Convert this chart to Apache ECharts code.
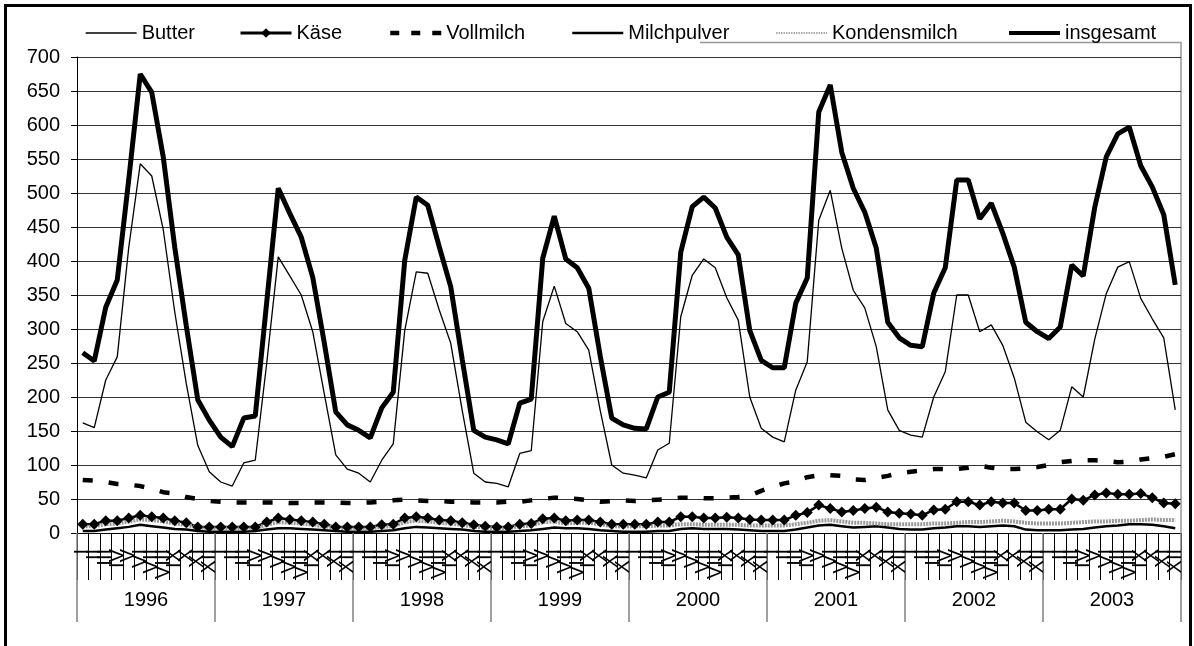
<!DOCTYPE html>
<html>
<head>
<meta charset="utf-8">
<script src="https://cdn.jsdelivr.net/npm/echarts@6.0.0/dist/echarts.min.js"></script>
<style>
html, body { margin: 0; padding: 0; background: #fff; }
#main { width: 1194px; height: 646px; }
</style>
</head>
<body>
<div id="main"></div>
<script>
// Jahre und Monate (römisch)
var years = ['1996', '1997', '1998', '1999', '2000', '2001', '2002', '2003']
var monthLabels = ['I', 'II', 'III', 'IV', 'V', 'VI', 'VII', 'VIII', 'IX', 'X', 'XI', 'XII']
var yTicks = { min: 0, max: 700, step: 50 }

// Monatswerte 1996-2003
var butter = [
    162, 155, 225, 259, 420, 543, 525, 446, 325, 220, 129, 90,
    75, 69, 103, 107, 250, 406, 378, 350, 296, 205, 115, 94,
    88, 75, 107, 131, 298, 384, 382, 328, 279, 180, 88, 75,
    73, 68, 117, 121, 311, 363, 308, 296, 269, 180, 100, 88,
    85, 81, 122, 132, 318, 379, 403, 390, 346, 313, 200, 154,
    141, 134, 210, 252, 460, 504, 419, 357, 331, 274, 181, 151,
    144, 141, 200, 237, 350, 350, 296, 306, 276, 228, 163, 149,
    137, 151, 215, 200, 285, 352, 391, 399, 345, 315, 287, 181
]
var kaese = [
    13, 13, 18, 18, 22, 26, 24, 22, 18, 15, 9, 9,
    9, 9, 9, 9, 16, 22, 20, 18, 16, 13, 9, 9,
    9, 9, 12, 13, 22, 24, 22, 19, 18, 15, 12, 10,
    9, 9, 13, 14, 21, 22, 18, 19, 19, 16, 13, 13,
    13, 13, 16, 16, 24, 24, 22, 22, 23, 22, 20, 19,
    19, 19, 26, 30, 41, 36, 31, 33, 36, 38, 31, 29,
    28, 26, 34, 35, 46, 46, 41, 46, 44, 44, 33, 33,
    35, 35, 50, 48, 56, 59, 57, 57, 58, 52, 44, 43
]
var vollmilch = [
    78, 77, 75, 72, 71, 69, 65, 60, 58, 53, 50, 47,
    46, 45, 45, 45, 45, 45, 44, 44, 45, 45, 45, 44,
    44, 45, 46, 48, 49, 48, 47, 47, 46, 46, 45, 45,
    45, 46, 46, 48, 50, 52, 51, 50, 48, 46, 47, 48,
    47, 48, 49, 50, 52, 52, 51, 51, 52, 53, 55, 62,
    68, 73, 76, 82, 85, 85, 84, 79, 78, 81, 84, 88,
    90, 92, 94, 94, 94, 96, 99, 96, 94, 94, 95, 97,
    100, 104, 106, 107, 107, 106, 104, 105, 108, 110, 112, 116
]
var milchpulver = [
    3, 3, 5, 7, 9, 12, 10, 8, 6, 5, 3, 2,
    2, 2, 2, 3, 5, 7, 7, 6, 5, 4, 3, 2,
    2, 2, 3, 4, 7, 9, 8, 7, 6, 5, 3, 2,
    2, 2, 3, 4, 6, 8, 7, 7, 6, 4, 3, 2,
    2, 2, 3, 3, 6, 7, 6, 6, 6, 5, 4, 3,
    3, 3, 5, 8, 11, 12, 10, 8, 9, 10, 8, 6,
    5, 5, 7, 8, 10, 10, 9, 10, 11, 10, 5, 4,
    4, 4, 5, 6, 8, 10, 11, 13, 13, 12, 10, 7
]
var kondensmilch = [
    10, 10, 13, 14, 17, 20, 19, 17, 14, 12, 8, 7,
    7, 7, 7, 7, 12, 16, 15, 14, 12, 10, 8, 7,
    7, 7, 9, 10, 16, 18, 17, 15, 14, 12, 9, 8,
    7, 7, 10, 11, 16, 17, 14, 15, 15, 13, 10, 10,
    10, 10, 11, 11, 13, 13, 12, 12, 12, 12, 11, 11,
    11, 11, 13, 15, 18, 19, 17, 15, 15, 14, 13, 13,
    13, 13, 14, 14, 15, 16, 16, 17, 18, 17, 15, 14,
    14, 14, 15, 16, 17, 17, 18, 18, 19, 20, 19, 19
]
var insgesamt = [
    265, 253, 332, 372, 520, 675, 648, 553, 420, 305, 196, 166,
    141, 127, 169, 172, 340, 507, 470, 435, 376, 280, 178, 159,
    151, 140, 184, 207, 401, 494, 482, 421, 362, 255, 151, 141,
    137, 131, 191, 197, 404, 466, 403, 390, 360, 260, 169, 159,
    154, 153, 200, 207, 413, 480, 494, 478, 435, 409, 298, 254,
    243, 243, 338, 375, 619, 659, 560, 507, 472, 419, 310, 287,
    276, 274, 353, 390, 519, 519, 462, 485, 441, 391, 310, 296,
    286, 303, 394, 378, 479, 553, 587, 597, 540, 509, 468, 365
]

var FONT = '"Liberation Sans", Arial, sans-serif'

// Linienstile je Reihe
var styles = {
    'Butter':       { color: '#000', width: 1.3 },
    'Käse':         { color: '#000', width: 2.5 },
    'Vollmilch':    { color: '#000', width: 4.5, type: [10, 16] },
    'Milchpulver':  { color: '#000', width: 2.5 },
    'Kondensmilch': { color: '#9a9a9a', width: 4, type: [2, 1] },
    'insgesamt':    { color: '#000', width: 5 }
}

$init()

function $init () {
    var months = []
    years.forEach(function () {
        monthLabels.forEach(function (m) { months.push(m) })
    })

    var myChart = echarts.init(document.getElementById('main'))

    // Legende: jeder Eintrag einzeln positioniert
    var legendLeft = { 'Butter': 85, 'Käse': 239, 'Vollmilch': 388, 'Milchpulver': 571, 'Kondensmilch': 775, 'insgesamt': 1007 }
    var legendLine = {
        'Butter':       { color: '#000', width: 1.3 },
        'Käse':         { color: '#000', width: 3 },
        'Vollmilch':    { color: '#000', width: 4.5, type: [9, 12] },
        'Milchpulver':  { color: '#000', width: 2.5 },
        'Kondensmilch': { color: '#aaa', width: 2, type: [1.5, 1] },
        'insgesamt':    { color: '#000', width: 4 }
    }
    var legends = Object.keys(legendLeft).map(function (name) {
        var l = {
            data: [name],
            left: legendLeft[name],
            top: 23,
            padding: 0,
            itemWidth: 51,
            itemHeight: 12,
            lineStyle: legendLine[name],
            textStyle: { fontSize: 20, color: '#000', fontFamily: FONT }
        }
        // nur Käse hat Symbole
        if (name !== 'Käse') {
            l.itemStyle = { opacity: 0 }
        }
        return l
    })

    function lineSeries (name, data, extra) {
        var s = {
            name: name,
            type: 'line',
            data: data,
            symbol: 'none',
            xAxisIndex: 0,
            lineStyle: styles[name],
            itemStyle: { color: styles[name].color },
            emphasis: { disabled: true }
        }
        return Object.assign(s, extra || {})
    }

    var option = {
        animation: false,
        backgroundColor: '#fff',
        textStyle: { fontFamily: FONT },
        legend: legends,
        grid: { left: 77, right: 13, top: 57, bottom: 113, containLabel: false },
        xAxis: [
            {
                type: 'category',
                position: 'bottom',
                data: months,
                boundaryGap: true,
                axisLine: { show: true, lineStyle: { color: '#000', width: 1 } },
                axisTick: { show: true, interval: 0, length: 47, lineStyle: { color: '#000', width: 1 } },
                axisLabel: { interval: 0, rotate: 90, margin: 16, fontSize: 20, color: '#000', fontFamily: FONT },
                splitLine: { show: false }
            },
            {
                type: 'category',
                position: 'bottom',
                data: years,
                boundaryGap: true,
                axisLine: { show: false },
                axisTick: { show: true, interval: 0, length: 89, lineStyle: { color: '#808080', width: 1.5 } },
                axisLabel: { interval: 0, margin: 57, fontSize: 20, color: '#000', fontFamily: FONT },
                splitLine: { show: false }
            }
        ],
        yAxis: {
            type: 'value',
            min: yTicks.min,
            max: yTicks.max,
            interval: yTicks.step,
            axisLine: { show: true, lineStyle: { color: '#000', width: 1 } },
            axisTick: { show: true, inside: false, length: 6, lineStyle: { color: '#000' } },
            axisLabel: { fontSize: 20, color: '#000', margin: 17, fontFamily: FONT },
            splitLine: { show: true, lineStyle: { color: '#333', width: 1 } }
        },
        series: [
            lineSeries('Butter', butter),
            lineSeries('Käse', kaese, { symbol: 'diamond', symbolSize: 11 }),
            lineSeries('Vollmilch', vollmilch),
            lineSeries('Milchpulver', milchpulver),
            lineSeries('Kondensmilch', kondensmilch),
            lineSeries('insgesamt', insgesamt)
        ],
        graphic: [
            {
                type: 'rect',
                silent: true,
                shape: { x: 5.5, y: 5.5, width: 1185, height: 660 },
                style: { fill: null, stroke: '#000', lineWidth: 3 }
            },
            {
                type: 'polyline',
                silent: true,
                shape: { points: [[700, 42.5], [1181, 42.5], [1181, 533]] },
                style: { fill: null, stroke: '#999', lineWidth: 1.5 }
            }
        ]
    }
    myChart.setOption(option)
}
</script>
</body>
</html>
